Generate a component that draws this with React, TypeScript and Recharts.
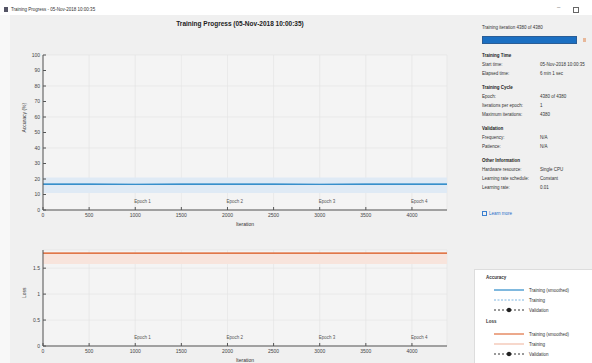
import React from "react";
import {
  ComposedChart,
  Line,
  Area,
  XAxis,
  YAxis,
  CartesianGrid,
  ReferenceLine,
} from "recharts";

// iterations sampled along the run
const iterations = [0, 500, 1000, 1500, 2000, 2500, 3000, 3500, 4000, 4380];
const accSmoothed = [16.7, 16.7, 16.6, 16.7, 16.7, 16.7, 16.6, 16.7, 16.7, 16.7];
const accRawLow = [11, 11, 11, 11, 11, 11, 11, 11, 11, 11];
const accRawHigh = [21, 21, 21, 21, 21, 21, 21, 21, 21, 21];
const lossSmoothed = [1.79, 1.79, 1.79, 1.79, 1.79, 1.79, 1.79, 1.79, 1.79, 1.79];
const lossRawLow = [1.58, 1.58, 1.58, 1.58, 1.58, 1.58, 1.58, 1.58, 1.58, 1.58];
const lossRawHigh = [1.8, 1.8, 1.8, 1.8, 1.8, 1.8, 1.8, 1.8, 1.8, 1.8];

const xTicks = [0, 500, 1000, 1500, 2000, 2500, 3000, 3500, 4000];
const accTicks = [0, 10, 20, 30, 40, 50, 60, 70, 80, 90, 100];
const lossTicks = [0, 0.5, 1, 1.5];
const epochAt = [1080, 2080, 3080, 4080];
const epochNames = ["Epoch 1", "Epoch 2", "Epoch 3", "Epoch 4"];

const infoSections = ["Training Time", "Training Cycle", "Validation", "Other Information"];
const infoRows: [string, string][][] = [
  [["Start time:", "05-Nov-2018 10:00:35"], ["Elapsed time:", "6 min 1 sec"]],
  [["Epoch:", "4380 of 4380"], ["Iterations per epoch:", "1"], ["Maximum iterations:", "4380"]],
  [["Frequency:", "N/A"], ["Patience:", "N/A"]],
  [["Hardware resource:", "Single CPU"], ["Learning rate schedule:", "Constant"], ["Learning rate:", "0.01"]],
];

const BLUE = "#0072bd";
const ORANGE = "#d95319";
const FONT = "Arial, 'Liberation Sans', sans-serif";

const data = iterations.map((it, i) => ({
  it,
  acc: accSmoothed[i],
  accBand: [accRawLow[i], accRawHigh[i]],
  loss: lossSmoothed[i],
  lossBand: [lossRawLow[i], lossRawHigh[i]],
}));

const tickStyle = { fontSize: 5, fill: "#444", fontFamily: FONT };

function LegendRow({ color, dash, dot, label }: { color: string; dash?: string; dot?: boolean; label: string }) {
  return (
    <div style={{ display: "flex", alignItems: "center", height: 10 }}>
      <svg width={32} height={6} style={{ marginLeft: 8 }}>
        <line x1={0} y1={3} x2={30} y2={3} stroke={color} strokeWidth={1} strokeDasharray={dash} />
        {dot && <circle cx={15} cy={3} r={2.2} fill="#222" />}
      </svg>
      <span style={{ marginLeft: 3 }}>{label}</span>
    </div>
  );
}

export default function App() {
  return (
    <div
      style={{
        position: "absolute",
        left: 0,
        top: 0,
        width: 592,
        height: 363,
        background: "#f0f0f0",
        overflow: "hidden",
        fontFamily: FONT,
        color: "#333",
      }}
    >
      {/* window title bar */}
      <div style={{ position: "absolute", left: 0, top: 0, width: 592, height: 15, background: "#fff" }} />
      <div style={{ position: "absolute", left: 0, top: 15, width: 10, height: 348, background: "#f8f8f8" }} />
      <div style={{ position: "absolute", left: 4, top: 7, width: 4, height: 5, background: "#556" }} />
      <div style={{ position: "absolute", left: 11, top: 7, fontSize: 4.5, color: "#333" }}>
        Training Progress - 05-Nov-2018 10:00:35
      </div>
      <div style={{ position: "absolute", left: 557, top: 4, fontSize: 6, color: "#555" }}>–</div>
      <div style={{ position: "absolute", left: 573, top: 7, width: 4, height: 4, border: "1px solid #666" }} />

      <div
        style={{
          position: "absolute",
          left: 0,
          width: 480,
          top: 20,
          textAlign: "center",
          fontSize: 6.5,
          fontWeight: "bold",
          color: "#222",
        }}
      >
        Training Progress (05-Nov-2018 10:00:35)
      </div>

      {/* accuracy plot */}
      <div style={{ position: "absolute", left: 0, top: 40 }}>
        <ComposedChart width={460} height={195} data={data} margin={{ top: 15, right: 13, bottom: 0, left: 0 }}>
          <CartesianGrid stroke="#e2e2e2" strokeWidth={0.6} fill="#f4f4f4" />
          <XAxis
            dataKey="it"
            type="number"
            domain={[0, 4380]}
            ticks={xTicks}
            height={25}
            tick={tickStyle}
            stroke="#555"
            tickSize={-3}
            tickMargin={6}
            label={{ value: "Iteration", position: "insideBottom", offset: 9, fontSize: 5, fill: "#333" }}
          />
          <YAxis
            type="number"
            domain={[0, 100]}
            ticks={accTicks}
            width={43}
            tick={tickStyle}
            stroke="#555"
            tickSize={-3}
            tickMargin={6}
            label={{ value: "Accuracy (%)", angle: -90, position: "insideLeft", offset: 24, fontSize: 5, fill: "#333" }}
          />
          {epochAt.map((x, i) => (
            <ReferenceLine
              key={x}
              x={x}
              stroke="none"
              label={{ value: epochNames[i], position: "insideBottom", offset: 7, fontSize: 4.5, fill: "#555" }}
            />
          ))}
          <Area
            dataKey="accBand"
            stroke="none"
            fill="#dfeaf5"
            fillOpacity={1}
            isAnimationActive={false}
          />
          <Line dataKey="acc" stroke={BLUE} strokeWidth={1.2} dot={false} isAnimationActive={false} />
        </ComposedChart>
      </div>

      {/* loss plot */}
      <div style={{ position: "absolute", left: 0, top: 240 }}>
        <ComposedChart width={460} height={123} data={data} margin={{ top: 10, right: 13, bottom: 0, left: 0 }}>
          <CartesianGrid stroke="#e2e2e2" strokeWidth={0.6} fill="#f4f4f4" />
          <XAxis
            dataKey="it"
            type="number"
            domain={[0, 4380]}
            ticks={xTicks}
            height={17}
            tick={tickStyle}
            stroke="#555"
            tickSize={-3}
            tickMargin={6}
            label={{ value: "Iteration", position: "insideBottom", offset: 1, fontSize: 5, fill: "#333" }}
          />
          <YAxis
            type="number"
            domain={[0, 1.85]}
            ticks={lossTicks}
            width={43}
            tick={tickStyle}
            stroke="#555"
            tickSize={-3}
            tickMargin={6}
            label={{ value: "Loss", angle: -90, position: "insideLeft", offset: 24, fontSize: 5, fill: "#333" }}
          />
          {epochAt.map((x, i) => (
            <ReferenceLine
              key={x}
              x={x}
              stroke="none"
              label={{ value: epochNames[i], position: "insideBottom", offset: 7, fontSize: 4.5, fill: "#555" }}
            />
          ))}
          <Area
            dataKey="lossBand"
            stroke="none"
            fill="#f8e4dc"
            fillOpacity={1}
            isAnimationActive={false}
          />
          <Line dataKey="loss" stroke={ORANGE} strokeWidth={1.2} dot={false} isAnimationActive={false} />
        </ComposedChart>
      </div>

      {/* right info panel */}
      <div style={{ position: "absolute", left: 482, top: 25, fontSize: 4.5 }}>Training iteration 4380 of 4380</div>
      <div style={{ position: "absolute", left: 482, top: 36, width: 95, height: 8, background: "#1b6fc2", border: "1px solid #2a5d96", boxSizing: "border-box" }} />
      <div style={{ position: "absolute", left: 583, top: 38, width: 3, height: 4, background: "#e8b89a" }} />
      <div style={{ position: "absolute", left: 482, top: 51, width: 105, fontSize: 4.5, lineHeight: "9px" }}>
        {infoSections.map((s, i) => (
          <div key={s} style={{ marginBottom: 5 }}>
            <div style={{ fontWeight: "bold", color: "#222" }}>{s}</div>
            {infoRows[i].map(([k, v]) => (
              <div key={k} style={{ display: "flex" }}>
                <span style={{ width: 58 }}>{k}</span>
                <span>{v}</span>
              </div>
            ))}
          </div>
        ))}
      </div>
      <div style={{ position: "absolute", left: 482, top: 211, width: 5, height: 5, border: "1px solid #3a7fd0", boxSizing: "border-box" }} />
      <div style={{ position: "absolute", left: 489, top: 211, fontSize: 4.5, color: "#2a6fc9" }}>Learn more</div>

      {/* legend */}
      <div
        style={{
          position: "absolute",
          left: 474,
          top: 269,
          width: 118,
          height: 94,
          background: "#fff",
          borderLeft: "1px solid #ddd",
          borderTop: "1px solid #ddd",
          fontSize: 4.5,
          paddingTop: 5,
          paddingLeft: 11,
          boxSizing: "border-box",
        }}
      >
        <div style={{ fontWeight: "bold", height: 10 }}>Accuracy</div>
        <LegendRow color={BLUE} label="Training (smoothed)" />
        <LegendRow color="#7fb6e0" dash="2 1.5" label="Training" />
        <LegendRow color="#333" dash="2 2" dot label="Validation" />
        <div style={{ fontWeight: "bold", height: 10, marginTop: 4 }}>Loss</div>
        <LegendRow color={ORANGE} label="Training (smoothed)" />
        <LegendRow color="#efb199" label="Training" />
        <LegendRow color="#333" dash="2 2" dot label="Validation" />
      </div>
    </div>
  );
}
